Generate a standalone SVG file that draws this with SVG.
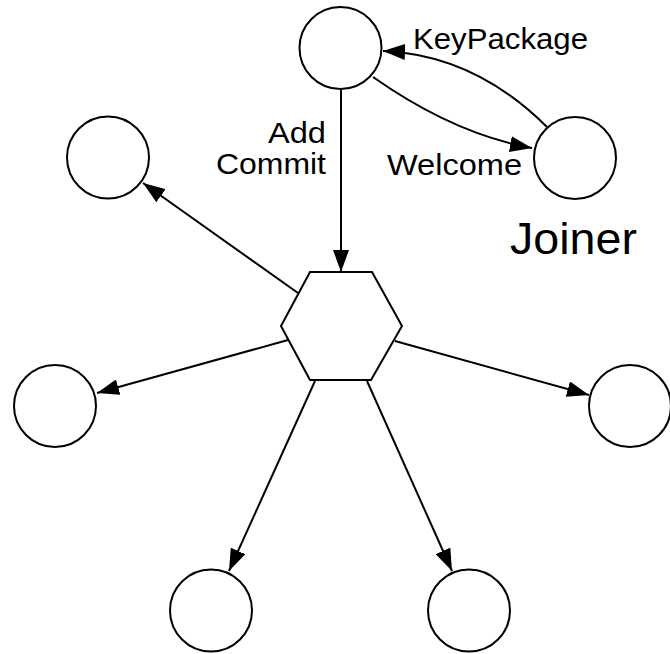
<svg xmlns="http://www.w3.org/2000/svg" width="670" height="654" viewBox="0 0 670 654">
<style>
.node{fill:#fff;stroke:#000;stroke-width:2}
.edge{fill:none;stroke:#000;stroke-width:2}
.lbl{font-family:"Liberation Sans",Arial,Helvetica,sans-serif;font-size:29px;fill:#000}
</style>
<defs>
<marker id="arr" markerUnits="userSpaceOnUse" markerWidth="24" markerHeight="16" refX="22" refY="8" orient="auto" viewBox="0 0 24 16">
<path d="M0,0 L22,8 L0,16 z" fill="#000"/>
</marker>
</defs>
<rect width="670" height="654" fill="#fff"/>
<g id="connectors">
<path class="edge" d="M341,89 L341,272" marker-end="url(#arr)"/>
<path class="edge" d="M298,293 L143,183" marker-end="url(#arr)"/>
<path class="edge" d="M288,340 L97,393" marker-end="url(#arr)"/>
<path class="edge" d="M395,341 L589,395" marker-end="url(#arr)"/>
<path class="edge" d="M315,381 L229,571" marker-end="url(#arr)"/>
<path class="edge" d="M367,381 L452,571" marker-end="url(#arr)"/>
<path class="edge" d="M547,127 Q475,55 383,51" marker-end="url(#arr)"/>
<path class="edge" d="M373,77 Q454,134 532,148" marker-end="url(#arr)"/>
</g>
<g id="top"><circle class="node" cx="340.5" cy="48" r="41"/></g>
<g id="joiner"><circle class="node" cx="575" cy="158" r="41"/></g>
<g id="topleft"><circle class="node" cx="108" cy="157.5" r="41"/></g>
<g id="left"><circle class="node" cx="55" cy="406" r="41"/></g>
<g id="right"><circle class="node" cx="630" cy="406" r="41"/></g>
<g id="bottomleft"><circle class="node" cx="211" cy="610.5" r="41"/></g>
<g id="bottomright"><circle class="node" cx="469" cy="610.5" r="41"/></g>
<g id="hub"><polygon class="node" points="310,272 372,272 402,326 371,380 310,380 281,326"/></g>
<g id="labels">
<text class="lbl" x="413" y="49" textLength="175" lengthAdjust="spacingAndGlyphs">KeyPackage</text>
<text class="lbl" x="387" y="175" textLength="135" lengthAdjust="spacingAndGlyphs">Welcome</text>
<text class="lbl" x="268" y="143" textLength="58" lengthAdjust="spacingAndGlyphs">Add</text>
<text class="lbl" x="216" y="174" textLength="110" lengthAdjust="spacingAndGlyphs">Commit</text>
<text class="lbl" x="510" y="254" style="font-size:44px" textLength="127" lengthAdjust="spacingAndGlyphs">Joiner</text>
</g>
</svg>
